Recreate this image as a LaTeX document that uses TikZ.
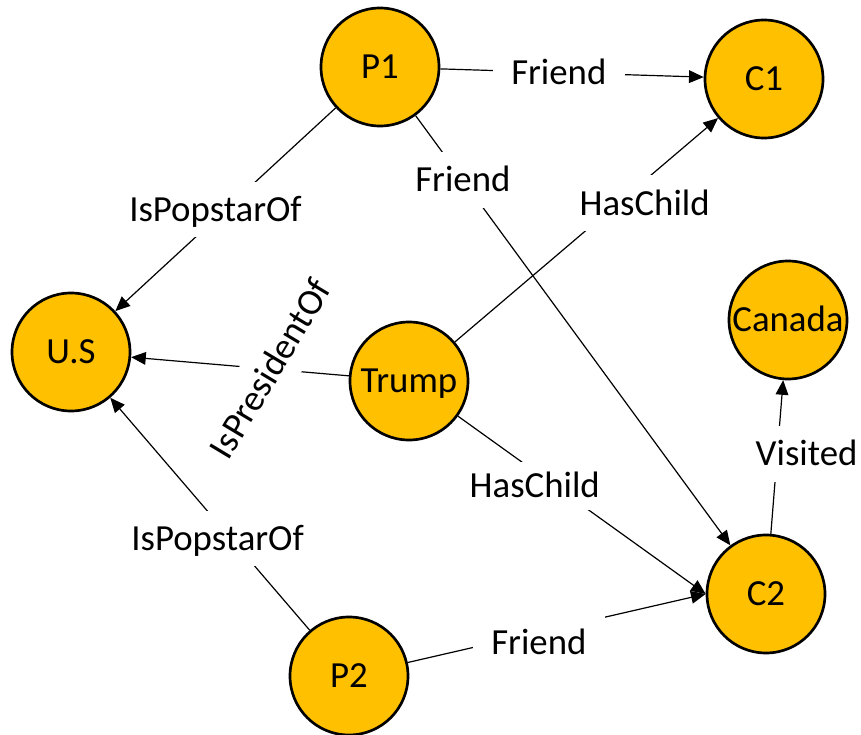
\documentclass[tikz,border=0pt]{standalone}
\usepackage{fontspec}
\setmainfont{Carlito}
\usetikzlibrary{arrows.meta}
\definecolor{gold}{HTML}{FFC000}
\begin{document}
\begin{tikzpicture}[x=0.75pt,y=-0.75pt,
  ent/.style={circle, draw=black, line width=2pt, fill=gold, minimum size=88.5pt,
    inner sep=0pt, font=\fontsize{27.6}{33}\selectfont, text height=17.8pt, text depth=0pt},
  rel/.style={draw=black, line width=0.9pt, -{Triangle[length=11pt,width=9.5pt]}},
  lbl/.style={fill=white, inner xsep=14pt, inner ysep=12pt,
    font=\fontsize{27.6}{33}\selectfont, text height=17.8pt, text depth=0pt}
]
\useasboundingbox (0,0) rectangle (861,735);

% entities
\node[ent] (P1)     at (380,67)  {P1};
\node[ent] (C1)     at (764,79)  {C1};
\node[ent] (US)     at (71,352)  {U.S};
\node[ent] (Canada) at (788,320) {Canada};
\node[ent] (Trump)  at (409,381) {Trump};
\node[ent] (C2)     at (766,594) {C2};
\node[ent] (P2)     at (349,676) {P2};

% relations
\draw[rel] (P1) -- node[lbl, pos=0.45] {Friend} (C1);
\draw[rel] (P1) -- node[lbl, pos=0.15] {Friend} (C2);
\draw[rel] (Trump) -- node[lbl, pos=0.62, xshift=20pt] {HasChild} (C1);
\draw[rel] (Trump) -- node[lbl, pos=0.36, rotate=59, inner ysep=12pt] {IsPresidentOf} (US);
\draw[rel] (Trump) -- node[lbl, pos=0.31, yshift=-11pt, inner ysep=9pt] {HasChild} (C2.west);
\draw[rel] (P1) -- node[lbl, pos=0.5, xshift=-7.5pt] {IsPopstarOf} (US);
\draw[rel] (P2) -- node[lbl, pos=0.395, xshift=-10pt] {IsPopstarOf} (US);
\draw[rel] (P2) -- node[lbl, pos=0.44, yshift=-7.5pt] {Friend} (C2.west);
\draw[rel] (C2) -- node[lbl, pos=0.52, xshift=22pt] {Visited} (Canada);
\end{tikzpicture}
\end{document}
